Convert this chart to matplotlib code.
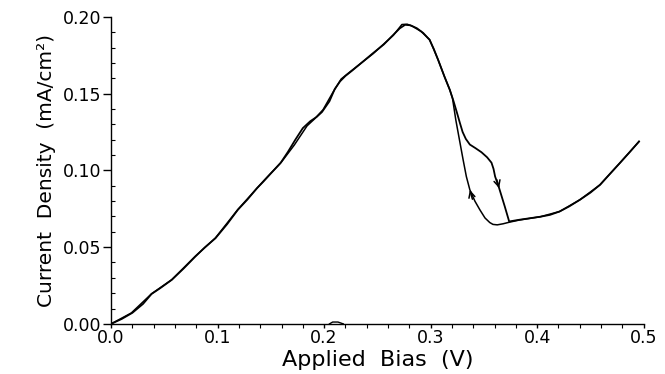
import matplotlib
matplotlib.use("Agg")
import matplotlib.pyplot as plt
from matplotlib.ticker import MultipleLocator, FormatStrFormatter

# forward sweep (0 -> 0.5 V)
fwd_bias = [0, 0.010, 0.020, 0.030, 0.038, 0.046, 0.057, 0.068, 0.079, 0.088,
            0.098, 0.109, 0.119, 0.128, 0.137, 0.143, 0.150, 0.159, 0.166, 0.173,
            0.180, 0.187, 0.193, 0.198, 0.205, 0.210, 0.215, 0.220, 0.226, 0.235,
            0.246, 0.256, 0.265, 0.271, 0.276, 0.281, 0.287, 0.293, 0.299, 0.303,
            0.307, 0.313, 0.318, 0.3215, 0.3245, 0.3274, 0.3300, 0.3330, 0.3368,
            0.342, 0.3477, 0.353, 0.3571, 0.359, 0.3605, 0.3643, 0.3696, 0.3737,
            0.383, 0.393, 0.403, 0.412, 0.421, 0.430, 0.440, 0.450, 0.459, 0.468,
            0.4775, 0.487, 0.4956]
fwd_current = [0, 0.0032, 0.0072, 0.0130, 0.0195, 0.0232, 0.0287, 0.0360, 0.0438,
               0.0498, 0.0558, 0.0650, 0.0743, 0.0810, 0.0884, 0.0927, 0.0980, 0.1047,
               0.1120, 0.1200, 0.1275, 0.1320, 0.1348, 0.1380, 0.1450, 0.1530, 0.1580,
               0.1615, 0.1648, 0.1700, 0.1764, 0.1820, 0.1883, 0.1925, 0.1948, 0.1945,
               0.1926, 0.1895, 0.1850, 0.1790, 0.1720, 0.1610, 0.1524, 0.1450, 0.1380,
               0.1310, 0.1250, 0.1205, 0.1168, 0.1145, 0.1118, 0.1085, 0.1050, 0.1010,
               0.0960, 0.0884, 0.0764, 0.0667, 0.0678, 0.0688, 0.0698, 0.0710, 0.0732,
               0.0765, 0.0808, 0.0855, 0.0906, 0.0975, 0.1047, 0.1120, 0.1188]

# reverse sweep (0.5 -> 0 V)
rev_bias = [0.4956, 0.4775, 0.459, 0.440, 0.421, 0.403, 0.383, 0.3737, 0.368,
            0.3625, 0.3585, 0.3555, 0.351, 0.3462, 0.3415, 0.3368, 0.3335, 0.3305,
            0.327, 0.3236, 0.3205, 0.318, 0.313, 0.307, 0.299, 0.291, 0.283, 0.278,
            0.273, 0.265, 0.246, 0.235, 0.224, 0.216, 0.208, 0.199, 0.191, 0.184,
            0.172, 0.160, 0.143, 0.137, 0.119, 0.098, 0.079, 0.057, 0.038, 0.019, 0]
rev_current = [0.1188, 0.1047, 0.0906, 0.0808, 0.0732, 0.0698, 0.0676, 0.0662,
               0.0652, 0.0645, 0.0648, 0.0660, 0.0690, 0.0743, 0.0800, 0.0873, 0.0960,
               0.1068, 0.1200, 0.1329, 0.1470, 0.1524, 0.1610, 0.1720, 0.1852, 0.1905,
               0.1938, 0.1952, 0.1950, 0.1880, 0.1760, 0.1700, 0.1640, 0.1595, 0.1505,
               0.1395, 0.1335, 0.1290, 0.1165, 0.1055, 0.0930, 0.0884, 0.0745, 0.0560,
               0.0440, 0.0288, 0.0196, 0.0071, 0]

# small blip sitting on the axis near 0.21 V
blip_bias = [0.205, 0.208, 0.213, 0.218]
blip_current = [0.0, 0.0012, 0.0012, 0.0]

# sweep direction markers: (tail, head)
arrow_up = ((0.3392, 0.0812), (0.3368, 0.0873))
arrow_down = ((0.3620, 0.0940), (0.3643, 0.0884))

plt.rcParams['font.family'] = ['DejaVu Sans']

fig = plt.figure(figsize=(6.65, 3.74), dpi=100)
ax = fig.add_axes([0.167, 0.134, 0.801, 0.821])

ax.plot(fwd_bias, fwd_current, color='black', lw=1.3)
ax.plot(rev_bias, rev_current, color='black', lw=1.1)
ax.plot(blip_bias, blip_current, color='black', lw=1.0)

for tail, head in (arrow_up, arrow_down):
    ax.annotate('', xy=head, xytext=tail,
                arrowprops=dict(arrowstyle='->', color='black', lw=1.1,
                                shrinkA=0, shrinkB=0,
                                mutation_scale=11))

ax.set_xlim(0, 0.5)
ax.set_ylim(0, 0.2)
ax.xaxis.set_major_locator(MultipleLocator(0.1))
ax.xaxis.set_minor_locator(MultipleLocator(0.02))
ax.yaxis.set_major_locator(MultipleLocator(0.05))
ax.yaxis.set_minor_locator(MultipleLocator(0.01))
ax.xaxis.set_major_formatter(FormatStrFormatter('%.1f'))
ax.yaxis.set_major_formatter(FormatStrFormatter('%.2f'))

ax.spines['top'].set_visible(False)
ax.spines['right'].set_visible(False)
for s in ('left', 'bottom'):
    ax.spines[s].set_linewidth(1.0)

ax.tick_params(axis='y', which='major', direction='out', length=6, width=1, labelsize=12.5, pad=1)
ax.tick_params(axis='y', which='minor', direction='in', length=3, width=0.8)
ax.tick_params(axis='x', which='major', direction='out', length=3, width=1, labelsize=12.5, pad=1)
ax.tick_params(axis='x', which='minor', direction='out', length=3, width=0.8)

ax.set_xlabel('Applied  Bias  (V)', fontsize=16, labelpad=2)
ax.set_ylabel('Current  Density  (mA/cm²)', fontsize=14.5, labelpad=5)

fig.savefig('out.png', dpi=100)
